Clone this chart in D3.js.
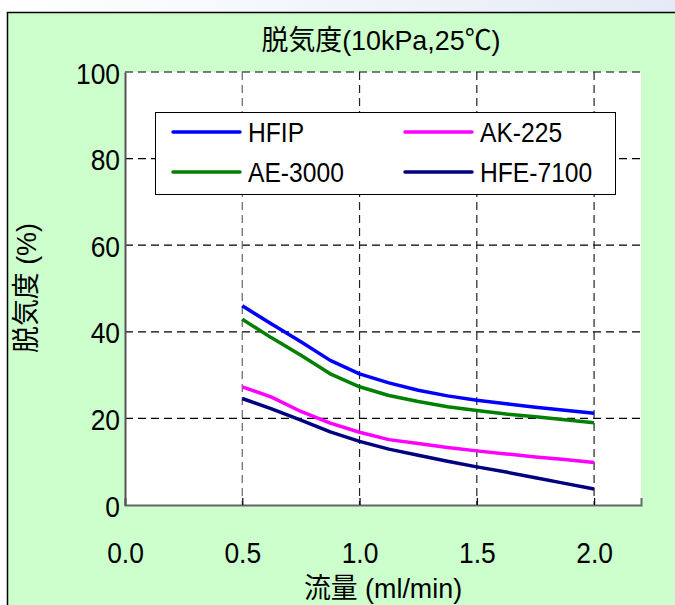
<!DOCTYPE html>
<html><head><meta charset="utf-8">
<script src="https://cdn.jsdelivr.net/npm/d3@7"></script>
<style>
html,body{margin:0;padding:0;background:#fff;}
svg{display:block;}
text{font-family:"Liberation Sans",Arial,"Noto Sans CJK JP",sans-serif;fill:#000;}
</style></head>
<body>
<script>
const flow = [0.5,0.625,0.75,0.875,1.0,1.125,1.25,1.375,1.5,1.625,1.75,1.875,2.0];
const hfip   = [46.0,41.8,37.7,33.4,30.3,28.2,26.5,25.2,24.2,23.4,22.6,21.9,21.2];
const ak225  = [27.3,24.9,21.6,18.9,16.8,15.1,14.2,13.3,12.5,11.8,11.1,10.5,9.8];
const ae3000 = [42.9,38.6,34.6,30.3,27.3,25.3,23.9,22.7,21.8,21.0,20.4,19.7,19.0];
const hfe7100= [24.6,22.2,19.6,16.9,14.7,12.9,11.5,10.1,8.8,7.6,6.3,5.0,3.7];
const seriesNames = ["HFIP","AK-225","AE-3000","HFE-7100"];
const seriesColors = ["#0000ff","#ff00ff","#008000","#000080"];
const xTicks = [0,0.5,1.0,1.5,2.0];
const yTicks = [0,20,40,60,80,100];
const title = "脱気度(10kPa,25℃)";
const xTitle = "流量 (ml/min)";
const yTitle = "脱気度 (%)";

const W=675,H=605, SX=0.88, ST=0.96;
const svg=d3.select("body").append("svg").attr("width",W).attr("height",H);
const defs=svg.append("defs");
const grad=defs.append("linearGradient").attr("id","bg").attr("x1",0).attr("x2",1).attr("y1",0).attr("y2",0);
grad.append("stop").attr("offset","0%").attr("stop-color","#ffffff");
grad.append("stop").attr("offset","100%").attr("stop-color","#e4ebf6");
svg.append("rect").attr("width",W).attr("height",H).attr("fill","url(#bg)");
svg.append("rect").attr("x",7.5).attr("y",12.5).attr("width",W+10).attr("height",H+10)
  .attr("fill","#ccffcc").attr("stroke","#000").attr("stroke-width",1.5);

const L=125,R=641,T=72,B=505;
const x=d3.scaleLinear().domain([0,2.2]).range([L,R]);
const y=d3.scaleLinear().domain([0,100]).range([B,T]);

svg.append("rect").attr("x",L).attr("y",T).attr("width",R-L).attr("height",B-T).attr("fill","#fff");

svg.append("g").selectAll("line").data(yTicks.filter(d=>d>0)).join("line")
  .attr("x1",L).attr("x2",R).attr("y1",d=>y(d)).attr("y2",d=>y(d))
  .attr("stroke","#000").attr("stroke-width",1.2).attr("stroke-dasharray","8,5");
svg.append("g").selectAll("line").data(xTicks.filter(d=>d>0)).join("line")
  .attr("x1",d=>x(d)).attr("x2",d=>x(d)).attr("y1",T).attr("y2",B)
  .attr("stroke",(d,i)=>i===0?"#666":"#222").attr("stroke-width",1.2).attr("stroke-dasharray","8,5");

const xAxis=svg.append("g").attr("transform",`translate(0,${B})`)
  .call(d3.axisBottom(x).tickValues(xTicks).tickSize(-7).tickFormat(d3.format(".1f")).tickPadding(0));
xAxis.select(".domain").attr("stroke","#666").attr("stroke-width",2);
xAxis.selectAll(".tick line").attr("stroke","#000").attr("stroke-width",1.2);
xAxis.selectAll("text").attr("font-size",30).attr("font-family",null)
  .attr("y",0).attr("dy",null).attr("transform",`translate(0,58) scale(${SX},1)`);

const yAxis=svg.append("g").attr("transform",`translate(${L},0)`)
  .call(d3.axisLeft(y).tickValues(yTicks).tickSize(0).tickPadding(0));
yAxis.select(".domain").attr("stroke","#555").attr("stroke-width",2);
yAxis.selectAll("text").attr("font-size",30).attr("font-family",null)
  .attr("x",0).attr("dy",null).attr("y",0).attr("transform",`translate(-5,11) scale(${SX},1)`);

const all=[hfip,ak225,ae3000,hfe7100];
const line=d3.line().x((d,i)=>x(flow[i])).y(d=>y(d));
svg.append("g").selectAll("path").data(all).join("path")
  .attr("d",d=>line(d)).attr("fill","none")
  .attr("stroke",(d,i)=>seriesColors[i]).attr("stroke-width",3.5)
  .attr("stroke-linejoin","round");

const lg=svg.append("g");
lg.append("rect").attr("x",155.5).attr("y",112.5).attr("width",460).attr("height",82)
  .attr("fill","#fff").attr("stroke","#000").attr("stroke-width",1);
const pos=[[173,132],[405,132],[173,172],[405,172]];
seriesNames.forEach((n,i)=>{
  const [px,py]=pos[i];
  lg.append("line").attr("x1",px).attr("x2",px+67).attr("y1",py).attr("y2",py)
    .attr("stroke",seriesColors[i]).attr("stroke-width",3.5).attr("stroke-linecap","round");
  lg.append("text").attr("transform",`translate(${px+75},${py+10}) scale(${SX},1)`)
    .attr("font-size",28).text(n);
});

svg.append("text").attr("transform",`translate(381,50) scale(${ST},1)`).attr("text-anchor","middle").attr("font-size",28).text(title);
svg.append("text").attr("transform",`translate(383,598) scale(${ST},1)`).attr("text-anchor","middle").attr("font-size",28).text(xTitle);
svg.append("text").attr("transform",`translate(36,288) rotate(-90) scale(${ST},1)`).attr("text-anchor","middle").attr("font-size",28).text(yTitle);
</script>
</body></html>
